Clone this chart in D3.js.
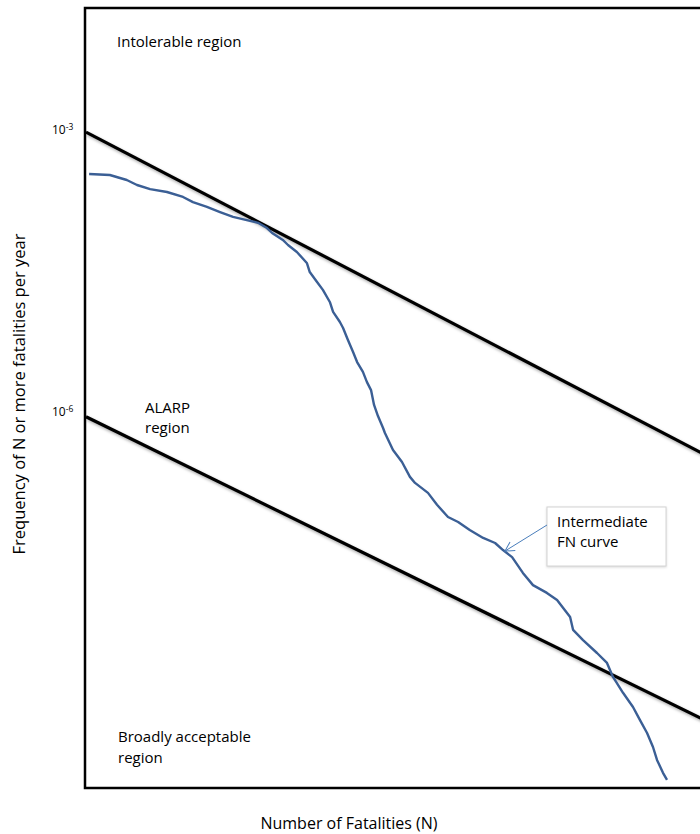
<!DOCTYPE html>
<html>
<head>
<meta charset="utf-8">
<script src="https://cdn.jsdelivr.net/npm/d3@7.9.0/dist/d3.min.js"></script>
<style>
  html, body { margin: 0; padding: 0; background: #fff; overflow: hidden; }
  svg { display: block; font-family: 'Open Sans', Lato, sans-serif; }
</style>
</head>
<body>
<div id="chart"></div>
<script>
/* =========================
   DATA
========================= */
// intermediate FN curve: N (fatalities) and F (frequency of N or more per year)
const fnN = [1.04, 1.35, 1.67, 1.90, 2.24, 2.77, 3.39, 3.84, 4.58, 5.40, 6.36, 7.87, 8.71, 9.75,
  10.4, 11.9, 12.7, 14.2, 16.1, 16.7, 18.3, 19.7, 21.5, 22.4, 24.4, 25.4, 27.0, 28.8, 30.3,
  32.6, 34.3, 36.1, 37.5, 39.4, 42.0, 43.0, 47.6, 53.3, 58.9, 62.8, 73.9, 82.8, 95.1, 108, 125,
  148, 172, 190, 213, 244, 277, 330, 375, 442, 459, 520, 620, 703, 758, 860, 975, 1065,
  1164, 1254, 1319, 1422, 1496];
const fnF = [3.40e-4, 3.32e-4, 2.94e-4, 2.60e-4, 2.35e-4, 2.19e-4, 1.94e-4, 1.71e-4, 1.52e-4,
  1.34e-4, 1.19e-4, 1.08e-4, 1.03e-4, 9.06e-5, 8.02e-5, 6.76e-5, 5.98e-5, 5.04e-5, 3.85e-5,
  3.08e-5, 2.42e-5, 1.99e-5, 1.48e-5, 1.16e-5, 9.06e-6, 7.83e-6, 5.84e-6, 4.35e-6, 3.40e-6,
  2.67e-6, 2.08e-6, 1.71e-6, 1.19e-6, 9.06e-7, 6.76e-7, 5.98e-7, 3.94e-7, 2.94e-7, 2.04e-7, 1.76e-7,
  1.38e-7, 1.03e-7, 7.64e-8, 6.76e-8, 5.56e-8, 4.57e-8, 4.04e-8, 3.40e-8, 2.86e-8, 1.94e-8,
  1.44e-8, 1.19e-8, 1.00e-8, 6.59e-9, 4.80e-9, 3.75e-9, 2.73e-9, 2.14e-9, 1.52e-9, 1.03e-9,
  7.28e-10, 5.28e-10, 3.85e-10, 2.73e-10, 1.99e-10, 1.45e-10, 1.22e-10];

// criterion lines (end points)
const criterionN = [1, 1e4];
const upperF = [9.5e-4, 8.3e-8];
const lowerF = [8.9e-7, 1.35e-10];

// y tick values and their exponents
const yTicks = [1e-3, 1e-6];
const yTickExp = ['-3', '-6'];

const regionLabels = {
  intolerable: ['Intolerable region'],
  alarp: ['ALARP', 'region'],
  acceptable: ['Broadly acceptable', 'region'],
};
const calloutLines = ['Intermediate', 'FN curve'];
const calloutTarget = { N: 190, F: 3.4e-8 };

const xTitle = 'Number of Fatalities (N)';
const yTitle = 'Frequency of N or more fatalities per year';

/* =========================
   LAYOUT
========================= */
const width = 700;
const height = 834;
const plot = { left: 85, top: 8, right: 740, bottom: 788 };

const svg = d3.select('#chart')
  .append('svg')
  .attr('width', width)
  .attr('height', height);

const defs = svg.append('defs');

defs.append('clipPath')
  .attr('id', 'plot-clip')
  .append('rect')
  .attr('x', plot.left)
  .attr('y', plot.top)
  .attr('width', plot.right - plot.left)
  .attr('height', plot.bottom - plot.top);

const shadow = defs.append('filter')
  .attr('id', 'shadow')
  .attr('x', '-10%').attr('y', '-10%')
  .attr('width', '120%').attr('height', '130%');
shadow.append('feDropShadow')
  .attr('dx', 1.5).attr('dy', 2)
  .attr('stdDeviation', 1.4)
  .attr('flood-color', '#000')
  .attr('flood-opacity', 0.35);

defs.append('marker')
  .attr('id', 'arrow')
  .attr('viewBox', '-10 -6 12 12')
  .attr('refX', 0).attr('refY', 0)
  .attr('markerWidth', 12).attr('markerHeight', 12)
  .attr('markerUnits', 'userSpaceOnUse')
  .attr('orient', 'auto')
  .append('path')
  .attr('d', 'M-9,-5 L0,0 L-9,5')
  .attr('fill', 'none')
  .attr('stroke', '#4a7ebb')
  .attr('stroke-width', 1);

/* =========================
   SCALES
========================= */
const xScale = d3.scaleLog()
  .domain([1, 1e4])
  .range([86, 86 + 4 * 183]);

const yScale = d3.scaleLog()
  .domain([1e-6, 1e-3])
  .range([412, 130]);

/* =========================
   FRAME
========================= */
svg.append('rect')
  .attr('x', plot.left)
  .attr('y', plot.top)
  .attr('width', plot.right - plot.left)
  .attr('height', plot.bottom - plot.top)
  .attr('fill', 'none')
  .attr('stroke', '#000')
  .attr('stroke-width', 2.5);

/* =========================
   Y AXIS (labels only)
========================= */
const yAxis = svg.append('g')
  .attr('transform', `translate(${plot.left},0)`)
  .call(d3.axisLeft(yScale).tickValues(yTicks).tickSize(0).tickFormat(''));

yAxis.select('.domain').remove();

yAxis.selectAll('.tick').each(function (d, i) {
  const t = d3.select(this).append('text')
    .attr('x', -33)
    .attr('dy', '0.32em')
    .attr('text-anchor', 'start')
    .attr('fill', '#000')
    .style('font-family', "'Open Sans', sans-serif")
    .style('font-size', '12px');
  t.append('tspan').text('10');
  t.append('tspan')
    .attr('dy', '-0.55em')
    .style('font-size', '8.5px')
    .text(yTickExp[i]);
});

/* =========================
   CRITERION LINES
========================= */
const lineGen = d3.line()
  .x(d => xScale(d[0]))
  .y(d => yScale(d[1]));

const marks = svg.append('g').attr('clip-path', 'url(#plot-clip)');

[upperF, lowerF].forEach(fs => {
  marks.append('path')
    .datum(criterionN.map((n, i) => [n, fs[i]]))
    .attr('d', lineGen)
    .attr('fill', 'none')
    .attr('stroke', '#000')
    .attr('stroke-width', 3.2)
    .attr('filter', 'url(#shadow)');
});

/* =========================
   FN CURVE
========================= */
marks.append('path')
  .datum(fnN.map((n, i) => [n, fnF[i]]))
  .attr('d', lineGen)
  .attr('fill', 'none')
  .attr('stroke', '#3b5f95')
  .attr('stroke-width', 2.4)
  .attr('stroke-linejoin', 'round');

/* =========================
   REGION LABELS
========================= */
function multiline(lines, x, y, lh, size) {
  const t = svg.append('text')
    .attr('x', x).attr('y', y)
    .attr('fill', '#000')
    .style('font-size', (size || 15) + 'px');
  lines.forEach((s, i) => {
    t.append('tspan')
      .attr('x', x)
      .attr('dy', i === 0 ? 0 : lh)
      .text(s);
  });
  return t;
}

multiline(regionLabels.intolerable, 117, 47, 20);
multiline(regionLabels.alarp, 145, 413, 20);
multiline(regionLabels.acceptable, 118, 742, 21);

/* =========================
   CALLOUT
========================= */
const box = { x: 547, y: 507, w: 119, h: 59 };

svg.append('rect')
  .attr('x', box.x).attr('y', box.y)
  .attr('width', box.w).attr('height', box.h)
  .attr('fill', '#fff')
  .attr('stroke', '#d4d4d4')
  .attr('stroke-width', 1)
  .style('filter', 'drop-shadow(0.5px 1px 0.8px rgba(0,0,0,0.15))');

multiline(calloutLines, box.x + 10, box.y + 20, 20);

svg.append('line')
  .attr('x1', box.x)
  .attr('y1', box.y + 18)
  .attr('x2', xScale(calloutTarget.N) + 2)
  .attr('y2', yScale(calloutTarget.F) + 1)
  .attr('stroke', '#4a7ebb')
  .attr('stroke-width', 1)
  .attr('marker-end', 'url(#arrow)');

/* =========================
   AXIS TITLES
========================= */
svg.append('text')
  .attr('x', 349)
  .attr('y', 829)
  .attr('text-anchor', 'middle')
  .attr('fill', '#000')
  .style('font-size', '16px')
  .text(xTitle);

svg.append('text')
  .attr('transform', 'translate(25,394) rotate(-90)')
  .attr('text-anchor', 'middle')
  .attr('fill', '#000')
  .style('font-size', '16.5px')
  .text(yTitle);
</script>
</body>
</html>
